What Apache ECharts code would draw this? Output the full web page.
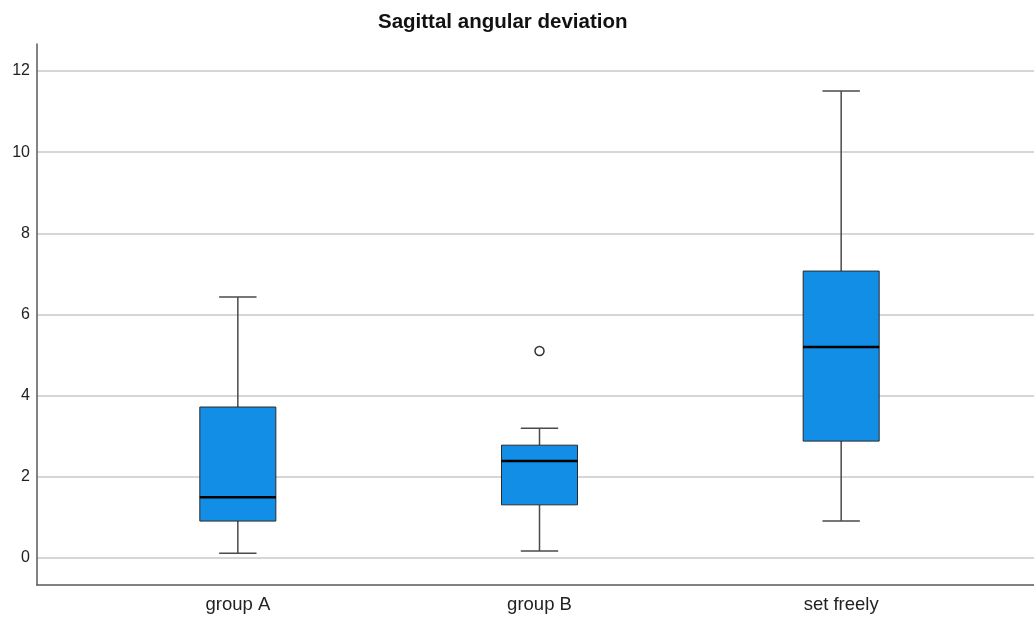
<!DOCTYPE html>
<html>
<head>
<meta charset="utf-8">
<script src="https://cdn.jsdelivr.net/npm/echarts@6/dist/echarts.min.js"></script>
<style>
  html, body { margin: 0; padding: 0; background: #fff; }
  #chart { width: 1034px; height: 621px; }
</style>
</head>
<body>
<div id="chart"></div>
<script>
// values
const categories = ['group A', 'group B', 'set freely']
const whiskerLow = [0.12, 0.17, 0.91]
const q1 = [0.91, 1.31, 2.88]
const median = [1.50, 2.39, 5.20]
const q3 = [3.72, 2.78, 7.07]
const whiskerHigh = [6.43, 3.20, 11.51]
const outliers = [[1, 5.10]]
const yTicks = [0, 2, 4, 6, 8, 10, 12]

const boxData = categories.map((c, i) => [i, whiskerLow[i], q1[i], median[i], q3[i], whiskerHigh[i]])

const chart = echarts.init(document.getElementById('chart'))
const font = 'Liberation Sans, Arial, sans-serif'

// draw one box with half-width whisker caps
const renderBox = function (params, api) {
  const idx = api.value(0)
  const band = api.size([1, 0])[0]
  const boxW = band * 0.252
  const capW = band * 0.124
  const pLow = api.coord([idx, api.value(1)])
  const pQ1 = api.coord([idx, api.value(2)])
  const pMed = api.coord([idx, api.value(3)])
  const pQ3 = api.coord([idx, api.value(4)])
  const pHigh = api.coord([idx, api.value(5)])
  const x = pQ1[0]
  const whisker = { stroke: '#4a4a4a', lineWidth: 1.5 }
  return {
    type: 'group',
    children: [
      { type: 'line', shape: { x1: x, y1: pHigh[1], x2: x, y2: pQ3[1] }, style: whisker },
      { type: 'line', shape: { x1: x, y1: pQ1[1], x2: x, y2: pLow[1] }, style: whisker },
      { type: 'line', shape: { x1: x - capW / 2, y1: pHigh[1], x2: x + capW / 2, y2: pHigh[1] }, style: whisker },
      { type: 'line', shape: { x1: x - capW / 2, y1: pLow[1], x2: x + capW / 2, y2: pLow[1] }, style: whisker },
      {
        type: 'rect',
        shape: { x: x - boxW / 2, y: pQ3[1], width: boxW, height: pQ1[1] - pQ3[1] },
        style: { fill: '#128ee6', stroke: '#2a2a2a', lineWidth: 1 }
      },
      { type: 'line', shape: { x1: x - boxW / 2, y1: pMed[1], x2: x + boxW / 2, y2: pMed[1] }, style: { stroke: '#000', lineWidth: 2.5 } }
    ]
  }
}

const options = {
  animation: false,
  title: {
    text: 'Sagittal angular deviation',
    left: 373,
    top: 7,
    textStyle: { fontFamily: font, fontSize: 20.5, fontWeight: 'bold', color: '#111' }
  },
  grid: [
    // frame
    { left: 37, right: 0, top: 44, bottom: 36 },
    // ticks + gridlines
    { left: 37, right: 0, top: 71, bottom: 63 },
    // boxes
    { left: 87, right: 42, top: 71, bottom: 63 }
  ],
  xAxis: [
    {
      gridIndex: 0, type: 'value', min: 0, max: 1,
      axisLine: { show: true, onZero: false, lineStyle: { color: '#5a5a5a', width: 1.5 } },
      axisTick: { show: false }, axisLabel: { show: false }, splitLine: { show: false }
    },
    {
      gridIndex: 1, type: 'value', min: 0, max: 1, show: false
    },
    {
      gridIndex: 2, type: 'category', data: categories,
      axisLine: { show: false }, axisTick: { show: false },
      axisLabel: { margin: 37, fontFamily: font, fontSize: 18.5, color: '#222' }
    }
  ],
  yAxis: [
    {
      gridIndex: 0, type: 'value', min: 0, max: 1,
      axisLine: { show: true, onZero: false, lineStyle: { color: '#5a5a5a', width: 1.5 } },
      axisTick: { show: false }, axisLabel: { show: false }, splitLine: { show: false }
    },
    {
      gridIndex: 1, type: 'value', min: yTicks[0], max: yTicks[yTicks.length - 1], interval: 2,
      axisLine: { show: false }, axisTick: { show: false },
      axisLabel: { margin: 7, fontFamily: font, fontSize: 16, color: '#222' },
      splitLine: { show: true, lineStyle: { color: '#c8c8c8', width: 1.5 } }
    },
    {
      gridIndex: 2, type: 'value', min: yTicks[0], max: yTicks[yTicks.length - 1], show: false
    }
  ],
  series: [
    {
      type: 'custom',
      xAxisIndex: 2,
      yAxisIndex: 2,
      renderItem: renderBox,
      clip: false,
      data: boxData
    },
    {
      type: 'scatter',
      xAxisIndex: 2,
      yAxisIndex: 2,
      symbol: 'circle',
      symbolSize: 9,
      itemStyle: { color: '#fff', borderColor: '#333', borderWidth: 1.5, opacity: 1 },
      data: outliers
    }
  ]
}

chart.setOption(options)

window.addEventListener('resize', function () {
  chart.resize()
})
</script>
</body>
</html>
